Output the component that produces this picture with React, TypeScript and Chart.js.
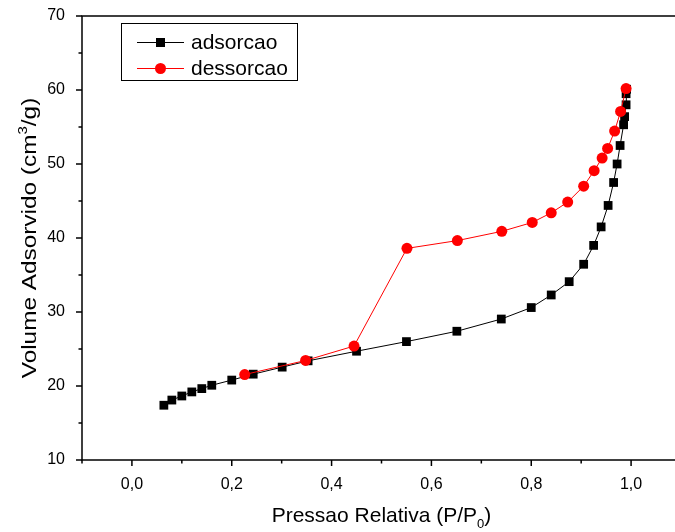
import { useEffect, useRef } from "react";
import { Chart, registerables } from "chart.js";

Chart.register(...registerables);

const FONT = '"Liberation Sans", Arial, sans-serif';

// Adsorption branch (P/P0, volume cm3/g)
const adsorcaoP = [0.064, 0.080, 0.100, 0.120, 0.140, 0.160, 0.200, 0.243, 0.301, 0.353, 0.450, 0.550, 0.651, 0.740, 0.800, 0.840, 0.876, 0.905, 0.925, 0.940, 0.954, 0.965, 0.972, 0.978, 0.985, 0.987, 0.990, 0.990, 0.991];
const adsorcaoV = [17.4, 18.1, 18.65, 19.2, 19.65, 20.1, 20.8, 21.6, 22.55, 23.4, 24.7, 26.0, 27.4, 29.05, 30.6, 32.3, 34.1, 36.45, 39.0, 41.5, 44.4, 47.5, 50.0, 52.5, 55.3, 56.4, 58.0, 59.5, 60.1];

// Desorption branch
const dessorcaoP = [0.226, 0.348, 0.445, 0.551, 0.652, 0.741, 0.802, 0.840, 0.873, 0.905, 0.926, 0.942, 0.953, 0.967, 0.979, 0.990];
const dessorcaoV = [21.55, 23.45, 25.4, 38.6, 39.65, 40.9, 42.1, 43.4, 44.85, 47.0, 49.1, 50.8, 52.1, 54.45, 57.1, 60.2];

const xMajorTicks = [0, 0.2, 0.4, 0.6, 0.8, 1.0];
const xMinorTicks = [-0.1, 0.1, 0.3, 0.5, 0.7, 0.9, 1.1];
const yMajorTicks = [10, 20, 30, 40, 50, 60, 70];
const yMinorTicks = [15, 25, 35, 45, 55, 65];

const seriesNames = ["adsorcao", "dessorcao"];

type Part = { t: string; small?: boolean; dy?: number };

function drawRich(ctx: CanvasRenderingContext2D, parts: Part[], cx: number, cy: number, size: number) {
  const widths = parts.map((p) => {
    ctx.font = `${p.small ? size * 0.62 : size}px ${FONT}`;
    return ctx.measureText(p.t).width;
  });
  const total = widths.reduce((a, b) => a + b, 0);
  let xx = cx - total / 2;
  ctx.textAlign = "left";
  ctx.textBaseline = "alphabetic";
  parts.forEach((p, i) => {
    ctx.font = `${p.small ? size * 0.62 : size}px ${FONT}`;
    ctx.fillText(p.t, xx, cy + (p.dy || 0) * size);
    xx += widths[i];
  });
}

const framePlugin = {
  id: "frameAndDecor",
  afterDraw(chart: any) {
    const { ctx, chartArea: a } = chart;
    const xs = chart.scales.x;
    const ys = chart.scales.y;
    ctx.save();
    ctx.strokeStyle = "#000";
    ctx.fillStyle = "#000";
    ctx.lineWidth = 1.5;
    ctx.strokeRect(a.left, a.top, a.right - a.left, a.bottom - a.top);

    // tick marks pointing outward
    ctx.beginPath();
    xMajorTicks.forEach((v) => {
      const px = xs.getPixelForValue(v);
      ctx.moveTo(px, a.bottom);
      ctx.lineTo(px, a.bottom + 6);
    });
    xMinorTicks.forEach((v) => {
      const px = xs.getPixelForValue(v);
      ctx.moveTo(px, a.bottom);
      ctx.lineTo(px, a.bottom + 3.5);
    });
    yMajorTicks.forEach((v) => {
      const py = ys.getPixelForValue(v);
      ctx.moveTo(a.left, py);
      ctx.lineTo(a.left - 6, py);
    });
    yMinorTicks.forEach((v) => {
      const py = ys.getPixelForValue(v);
      ctx.moveTo(a.left, py);
      ctx.lineTo(a.left - 3.5, py);
    });
    ctx.stroke();

    // legend
    const lx = 121, ly = 23, lw = 176, lh = 57;
    ctx.fillStyle = "#fff";
    ctx.fillRect(lx, ly, lw, lh);
    ctx.lineWidth = 1;
    ctx.strokeStyle = "#000";
    ctx.strokeRect(lx + 0.5, ly + 0.5, lw, lh);
    const rows = [
      { name: seriesNames[0], color: "#000000", square: true, y: 42.5 },
      { name: seriesNames[1], color: "#ff0000", square: false, y: 68.5 },
    ];
    rows.forEach((r) => {
      ctx.strokeStyle = r.color;
      ctx.fillStyle = r.color;
      ctx.lineWidth = 1;
      ctx.beginPath();
      ctx.moveTo(137, r.y);
      ctx.lineTo(184, r.y);
      ctx.stroke();
      if (r.square) {
        ctx.fillRect(160.5 - 4.5, r.y - 4.5, 9, 9);
      } else {
        ctx.beginPath();
        ctx.arc(160.5, r.y, 5.5, 0, Math.PI * 2);
        ctx.fill();
      }
      ctx.fillStyle = "#000";
      ctx.font = `21px ${FONT}`;
      ctx.textAlign = "left";
      ctx.textBaseline = "middle";
      ctx.fillText(r.name, 191, r.y + 1);
    });

    // axis titles
    ctx.fillStyle = "#000";
    drawRich(
      ctx,
      [
        { t: "Pressao Relativa (P/P" },
        { t: "0", small: true, dy: 0.3 },
        { t: ")" },
      ],
      (a.left + a.right) / 2,
      522,
      21
    );
    ctx.save();
    ctx.translate(36, (a.top + a.bottom) / 2);
    ctx.rotate(-Math.PI / 2);
    ctx.scale(1.16, 1);
    drawRich(
      ctx,
      [
        { t: "Volume Adsorvido (cm" },
        { t: "3", small: true, dy: -0.42 },
        { t: "/g)" },
      ],
      0,
      0,
      21
    );
    ctx.restore();
    ctx.restore();
  },
};

export default function App() {
  const canvasRef = useRef<HTMLCanvasElement | null>(null);

  useEffect(() => {
    const canvas = canvasRef.current;
    if (!canvas) return;
    const chart = new Chart(canvas, {
      type: "line",
      data: {
        datasets: [
          {
            label: seriesNames[0],
            data: adsorcaoP.map((p, i) => ({ x: p, y: adsorcaoV[i] })),
            borderColor: "#000000",
            backgroundColor: "#000000",
            borderWidth: 1,
            pointStyle: "rect",
            pointRadius: 6.2,
            pointBorderWidth: 0,
            order: 1,
          },
          {
            label: seriesNames[1],
            data: dessorcaoP.map((p, i) => ({ x: p, y: dessorcaoV[i] })),
            borderColor: "#ff0000",
            backgroundColor: "#ff0000",
            borderWidth: 1,
            pointStyle: "circle",
            pointRadius: 5.5,
            pointBorderWidth: 0,
            order: 0,
          },
        ],
      },
      options: {
        animation: false,
        responsive: false,
        devicePixelRatio: 1,
        layout: { padding: { top: 16, right: 19, left: 0, bottom: 0 } },
        plugins: { legend: { display: false }, tooltip: { enabled: false } },
        scales: {
          x: {
            type: "linear",
            min: -0.1,
            max: 1.1,
            grid: { display: false, drawTicks: false },
            border: { display: false },
            afterBuildTicks: (s: any) => {
              s.ticks = xMajorTicks.map((v) => ({ value: v }));
            },
            afterFit: (s: any) => {
              s.height = 72;
              s.paddingLeft = 0;
              s.paddingRight = 0;
            },
            ticks: {
              padding: 15,
              color: "#000",
              font: { family: FONT, size: 16 },
              maxRotation: 0,
              callback: (v: any) => Number(v).toFixed(1).replace(".", ","),
            },
          },
          y: {
            type: "linear",
            min: 10,
            max: 70,
            grid: { display: false, drawTicks: false },
            border: { display: false },
            afterBuildTicks: (s: any) => {
              s.ticks = yMajorTicks.map((v) => ({ value: v }));
            },
            afterFit: (s: any) => {
              s.width = 82;
              s.paddingTop = 0;
              s.paddingBottom = 0;
            },
            ticks: {
              padding: 17,
              color: "#000",
              font: { family: FONT, size: 16 },
              callback: (v: any) => String(v),
            },
          },
        },
      },
      plugins: [framePlugin],
    });
    return () => chart.destroy();
  }, []);

  return (
    <div
      style={{
        position: "fixed",
        left: 0,
        top: 0,
        width: 675,
        height: 532,
        overflow: "hidden",
        background: "#fff",
      }}
    >
      <canvas ref={canvasRef} width={700} height={532} style={{ display: "block" }} />
    </div>
  );
}
